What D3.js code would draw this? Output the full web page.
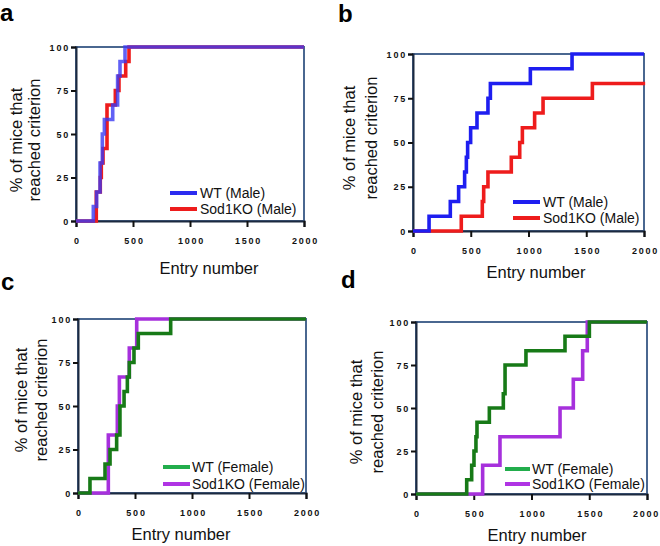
<!DOCTYPE html>
<html><head><meta charset="utf-8">
<script src="https://cdn.jsdelivr.net/npm/d3@7"></script>
<style>html,body{margin:0;padding:0;background:#fff;}</style>
</head><body>
<svg id="chart" width="660" height="546"></svg>
<script>
const xTicks = [0, 500, 1000, 1500, 2000];
const yTicks = [0, 25, 50, 75, 100];
const panelLabels = ["a", "b", "c", "d"];
const legendA = ["WT (Male)", "Sod1KO (Male)"];
const legendB = ["WT (Male)", "Sod1KO (Male)"];
const legendC = ["WT (Female)", "Sod1KO (Female)"];
const legendD = ["WT (Female)", "Sod1KO (Female)"];
const yTitle = ["% of mice that", "reached criterion"];
const xTitle = "Entry number";

// step data: entry number -> % reached criterion (after step)
const aWT_x  = [0, 152, 181, 211, 231, 249, 322, 365, 386, 430, 2000];
const aWT_y  = [0, 8.3, 16.7, 33.3, 50, 58.3, 66.7, 83.3, 91.7, 100, 100];
const aKO_x  = [0, 178, 213, 222, 237, 272, 345, 377, 436, 465, 2000];
const aKO_y  = [0, 16.7, 25, 33.3, 41.7, 66.7, 75, 83.3, 91.7, 100, 100];

const bWT_x  = [0, 139, 323, 395, 447, 462, 473, 499, 554, 649, 670, 1016, 1377, 2000];
const bWT_y  = [0, 8.3, 16.7, 25, 33.3, 41.7, 50, 58.3, 66.7, 75, 83.3, 91.7, 100, 100];
const bKO_x  = [0, 418, 600, 612, 649, 851, 924, 947, 1053, 1126, 1553, 2010];
const bKO_y  = [0, 8.3, 16.7, 25, 33.3, 41.7, 50, 58.3, 66.7, 75, 83.3, 83.3];

const cWT_x  = [0, 105, 237, 281, 339, 368, 404, 433, 450, 491, 529, 813, 2000];
const cWT_y  = [0, 8.3, 16.7, 25, 33.3, 50, 58.3, 66.7, 75, 83.3, 91.7, 100, 100];
const cKO_x  = [0, 266, 345, 363, 450, 515, 2000];
const cKO_y  = [0, 33.3, 50, 66.7, 83.3, 100, 100];

const dWT_x  = [0, 439, 482, 502, 519, 528, 635, 756, 771, 952, 1290, 1501, 2000];
const dWT_y  = [0, 8.3, 16.7, 25, 33.3, 41.7, 50, 58.3, 75, 83.3, 91.7, 100, 100];
const dKO_x  = [0, 577, 727, 1247, 1362, 1443, 1483, 2000];
const dKO_y  = [0, 16.7, 33.3, 50, 66.7, 83.3, 100, 100];

const zip = (xs, ys) => xs.map((x, i) => [x, ys[i]]);

const panels = [
  { label: panelLabels[0], lab: [0, 21], L: 76, R: 304, T: 47, B: 221,
    ytl: [22, 40], ytc: 140, xtc: [209, 274],
    leg: { x1: 170, x2: 197, tx: 200, y: [193, 209] }, legText: legendA,
    series: [
      { pts: zip(aKO_x, aKO_y), color: "#ee1c1c", op: 1, lc: "#ee1c1c" },
      { pts: zip(aWT_x, aWT_y), color: "#3a3af2", op: 0.8, lc: "#2b2bf0" } ] },
  { label: panelLabels[1], lab: [338, 22], L: 413, R: 644, T: 54, B: 231,
    ytl: [355, 377], ytc: 138, xtc: [536, 278],
    leg: { x1: 513, x2: 540, tx: 543, y: [202, 218] }, legText: legendB,
    series: [
      { pts: zip(bKO_x, bKO_y), color: "#ee1c1c", op: 1, lc: "#ee1c1c" },
      { pts: zip(bWT_x, bWT_y), color: "#1e1ef0", op: 1, lc: "#1e1ef0" } ] },
  { label: panelLabels[2], lab: [1, 290], L: 78, R: 306, T: 319, B: 493,
    ytl: [27, 47], ytc: 400, xtc: [181, 540],
    leg: { x1: 163, x2: 190, tx: 192, y: [467, 484] }, legText: legendC,
    series: [
      { pts: zip(cKO_x, cKO_y), color: "#a630dc", op: 1, lc: "#b034e4" },
      { pts: zip(cWT_x, cWT_y), color: "#177a17", op: 1, lc: "#22ad4c" } ] },
  { label: panelLabels[3], lab: [341, 288], L: 416, R: 647, T: 322, B: 494,
    ytl: [362, 383], ytc: 412, xtc: [537, 541],
    leg: { x1: 505, x2: 530, tx: 532, y: [469, 484] }, legText: legendD,
    series: [
      { pts: zip(dKO_x, dKO_y), color: "#a630dc", op: 1, lc: "#b034e4" },
      { pts: zip(dWT_x, dWT_y), color: "#177a17", op: 1, lc: "#22ad4c" } ] }
];

const svg = d3.select("#chart");
const FONT = "'Liberation Sans', Arial, sans-serif";

panels.forEach(p => {
  const x = d3.scaleLinear().domain([0, 2000]).range([p.L, p.R]);
  const y = d3.scaleLinear().domain([0, 100]).range([p.B, p.T]);
  const g = svg.append("g");

  g.append("text").attr("x", p.lab[0]).attr("y", p.lab[1])
    .attr("font-family", FONT).attr("font-weight", "bold").attr("font-size", 24)
    .text(p.label);

  g.append("rect").attr("x", p.L).attr("y", p.T)
    .attr("width", p.R - p.L).attr("height", p.B - p.T)
    .attr("fill", "none").attr("stroke", "#4a6790").attr("stroke-width", 2);

  const xAxis = d3.axisBottom(x).tickValues(xTicks).tickSize(6).tickPadding(0).tickFormat(d3.format("d"));
  const yAxis = d3.axisLeft(y).tickValues(yTicks).tickSize(5).tickFormat(d3.format("d"));
  const gx = g.append("g").attr("transform", `translate(0,${p.B})`).call(xAxis);
  const gy = g.append("g").attr("transform", `translate(${p.L},0)`).call(yAxis);
  [gx, gy].forEach(ax => {
    ax.select(".domain").attr("stroke", "#1c2a40").attr("stroke-width", 2);
    ax.selectAll(".tick line").attr("stroke", "#111").attr("stroke-width", 2);
    ax.selectAll(".tick text").attr("font-family", FONT).attr("font-weight", "bold")
      .attr("font-size", 9).attr("letter-spacing", "1.8px").attr("fill", "#111");
  });
  gx.selectAll(".tick text").attr("y", 0).attr("dy", 0)
    .attr("transform", d => (x(d) + 14 > 659) ? `translate(${659 - x(d) - 13},23)` : "translate(1,23)");
  gy.selectAll(".tick text").attr("x", -6).attr("dy", "0.34em");

  const line = d3.line().x(d => x(d[0])).y(d => y(d[1])).curve(d3.curveStepAfter);
  p.series.forEach(s => {
    g.append("path").datum(s.pts).attr("d", line)
      .attr("fill", "none").attr("stroke", s.color).attr("stroke-width", 3.6)
      .attr("stroke-opacity", s.op).attr("stroke-linejoin", "miter");
  });

  const legOrder = [p.series[1], p.series[0]];
  legOrder.forEach((s, i) => {
    g.append("line").attr("x1", p.leg.x1).attr("x2", p.leg.x2)
      .attr("y1", p.leg.y[i]).attr("y2", p.leg.y[i])
      .attr("stroke", s.lc).attr("stroke-width", 4);
    g.append("text").attr("x", p.leg.tx).attr("y", p.leg.y[i] + 5)
      .attr("font-family", FONT).attr("font-size", 14).attr("fill", "#111")
      .text(p.legText[i]);
  });

  yTitle.forEach((t, i) => {
    g.append("text").attr("transform", `translate(${p.ytl[i]},${p.ytc}) rotate(-90)`)
      .attr("text-anchor", "middle").attr("font-family", FONT).attr("font-size", 16.5)
      .attr("fill", "#111").text(t);
  });

  g.append("text").attr("x", p.xtc[0]).attr("y", p.xtc[1]).attr("text-anchor", "middle")
    .attr("font-family", FONT).attr("font-size", 16.5).attr("fill", "#111").text(xTitle);
});
</script>
</body></html>
